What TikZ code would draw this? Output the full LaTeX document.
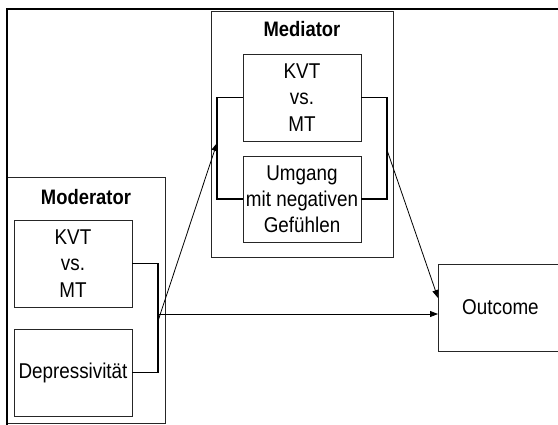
\documentclass[tikz,border=0pt]{standalone}
\usepackage{fontspec}
\setmainfont{Liberation Sans}[FakeStretch=0.88]
\usetikzlibrary{arrows.meta}
\begin{document}
\begin{tikzpicture}[x=1bp,y=-1bp,
  title/.style={font=\fontsize{21}{24}\selectfont\bfseries, inner sep=0pt},
  group/.style={draw=black!85, line width=0.9bp, inner sep=0pt},
  var/.style={draw=black!85, line width=0.9bp, inner sep=0pt, align=center,
    font=\fontsize{21.5}{26.3}\selectfont},
  bracket/.style={line width=1.4bp, black},
  arr/.style={line width=0.8bp, -{Triangle[length=8bp,width=6bp]}},
  frame/.style={line width=2.2bp, line cap=rect}]
\useasboundingbox (0,0) rectangle (558,424);
\clip (0,0) rectangle (558,424);

% group boxes
\node[group, minimum width=182bp, minimum height=246bp] (med) at (302,134) {};
\node[group, minimum width=158bp, minimum height=246bp] (mod) at (86,300) {};
\node[title] (medtitle) at (302,29) {Mediator};
\node[title] (modtitle) at (86,197) {Moderator};

% variables
\node[var, minimum width=118bp, minimum height=87bp] (medkvt) at (302,97.5) {KVT\\vs.\\MT};
\node[var, minimum width=118bp, minimum height=86bp] (umg) at (302,199) {Umgang\\mit negativen\\Gefühlen};
\node[var, minimum width=118bp, minimum height=87bp] (modkvt) at (73,263.5) {KVT\\vs.\\MT};
\node[var, minimum width=118bp, minimum height=87bp] (dep) at (73,372.5) {Depressivität};
\node[var, minimum width=140bp, minimum height=87bp, anchor=west] (out) at (438,307.5) {\hspace*{-16bp}Outcome};

% junction points
\coordinate (jm) at (158,314);
\coordinate (jmd) at (158,321);
\coordinate (jl) at (217,143);
\coordinate (jr) at (387,150);
\coordinate (outin) at (438,298);

% brackets joining the variables of a group
\draw[bracket] (modkvt.east) -| (jm) |- (dep.east);
\draw[bracket] (medkvt.west) -| (jl) |- (umg.west);
\draw[bracket] (medkvt.east) -| (jr) |- (umg.east);

% paths
\draw[arr] (jmd) -- (jl);
\draw[arr] (jm) -- (jm -| out.west);
\draw[arr] (jr) -- (outin);

% outer frame
\draw[frame] (7,430) -- (7,9) -- (565,9);
\end{tikzpicture}
\end{document}
